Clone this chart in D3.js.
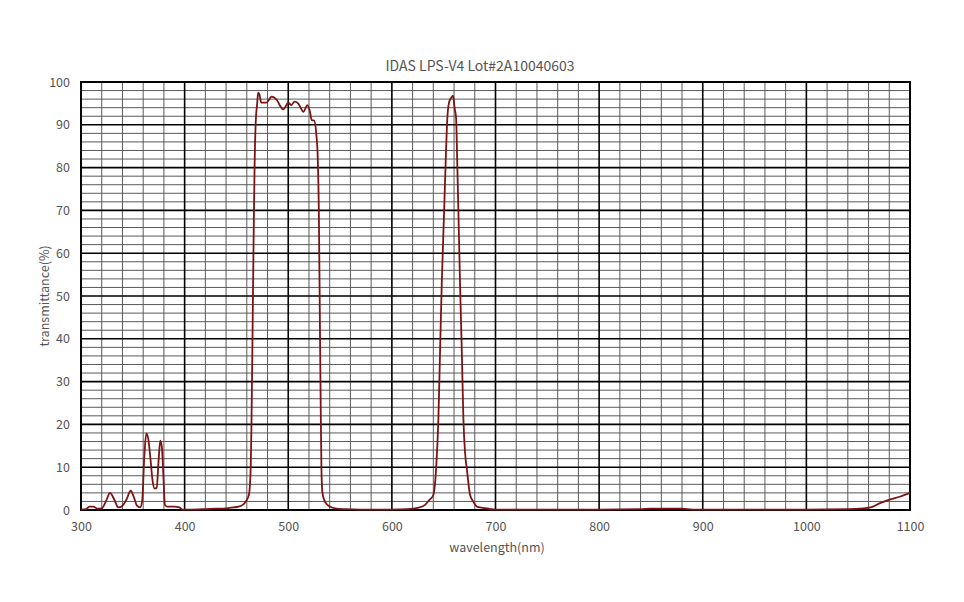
<!DOCTYPE html>
<html><head><meta charset="utf-8">
<script src="https://cdn.jsdelivr.net/npm/d3@7"></script>
<style>
body{margin:0;background:#fff;}
text{font-family:"Noto Sans CJK JP","DejaVu Sans",sans-serif;}
</style></head>
<body><svg id="c" width="964" height="602"></svg>
<script>
const title = "IDAS LPS-V4 Lot#2A10040603";
const xLabel = "wavelength(nm)";
const yLabel = "transmittance(%)";
const xTicks = [300,400,500,600,700,800,900,1000,1100];
const yTicks = [0,10,20,30,40,50,60,70,80,90,100];
const wavelength = [300,305,308,312,316,320,324,328,332,336,340,344,348,351,354,357,359,361,363,365,367,369,371,373,375,376.5,378,379.5,381,383,390,395,398,405,420,430,440,447,452,456,459,462,463.5,464.5,465.5,466.5,467.5,468.5,470,471,472,474,479,484,489,492,495,498,500,503,506,509.5,512,514.5,518.5,521,522.7,525,527,528.5,529.5,530.5,531.3,532,533,535,537,540,545,555,570,600,615,625,632,636,640,642.7,644.9,646.5,648.1,650.4,652,653.5,655,657,659,660.5,662,663,664.2,665.8,667.5,669,670.7,672.3,675.5,678.7,682,688,700,750,800,840,850,865,880,890,950,1000,1040,1055,1062,1071,1081,1090,1100];
const transmittance = [0.1,0.2,0.8,0.8,0.3,0.4,2,4.0,2.5,0.6,1,2.5,4.5,3,1,0.6,2,12,17.9,16.5,12,7,5,5.2,12,16.2,14.8,8,1.2,0.8,0.8,0.6,0.1,0.1,0.2,0.3,0.4,0.6,0.8,1.2,2,3.5,8,20,40,62,80,90,95,97.5,97.2,95.2,95.2,96.6,95.8,94.5,93.6,94.5,95.2,94.6,95.4,95,94,93,94.6,93,91.1,91,88,82,70,45,25,10,4,2.2,1.4,0.8,0.4,0.2,0.1,0.1,0.2,0.5,1.2,2.3,3.5,9.7,21.4,37,52.6,69.7,82,91.5,95,96.2,96.8,94,91.5,82,69.7,52.6,37,21.4,13.2,9.7,3.5,1.9,0.8,0.5,0.1,0.1,0.1,0.2,0.3,0.3,0.3,0.1,0.1,0.1,0.2,0.4,0.6,1.6,2.5,3.1,4.0];

const svg = d3.select("#c");
const L = 81, T = 82, W = 829, H = 428;
const x = d3.scaleLinear().domain([300,1100]).range([L, L+W]);
const y = d3.scaleLinear().domain([0,100]).range([T+H, T]);
const g = svg.append("g");

// minor grid
const xMinor = d3.range(300,1101,20).filter(v => v%100 !== 0);
const yMinor = d3.range(0,101,2).filter(v => v%10 !== 0);
g.selectAll(".vm").data(xMinor).join("line")
  .attr("x1", d=>x(d)).attr("x2", d=>x(d)).attr("y1", T).attr("y2", T+H)
  .attr("stroke", "#5a5a5a").attr("stroke-width", 1);
g.selectAll(".hm").data(yMinor).join("line")
  .attr("x1", L).attr("x2", L+W).attr("y1", d=>y(d)).attr("y2", d=>y(d))
  .attr("stroke", "#5a5a5a").attr("stroke-width", 1);
// major grid
g.selectAll(".vM").data(xTicks).join("line")
  .attr("x1", d=>x(d)).attr("x2", d=>x(d)).attr("y1", T).attr("y2", T+H)
  .attr("stroke", "#000").attr("stroke-width", 1.6);
g.selectAll(".hM").data(yTicks).join("line")
  .attr("x1", L).attr("x2", L+W).attr("y1", d=>y(d)).attr("y2", d=>y(d))
  .attr("stroke", "#000").attr("stroke-width", 1.6);
g.append("rect").attr("x", L).attr("y", T).attr("width", W).attr("height", H)
  .attr("fill","none").attr("stroke","#000").attr("stroke-width",2);

// axes labels
const xa = svg.append("g").attr("transform", `translate(0,${T+H+6})`)
  .call(d3.axisBottom(x).tickValues(xTicks).tickFormat(d3.format("d")).tickSize(0).tickPadding(6));
xa.select(".domain").remove();
xa.selectAll("text").attr("fill","#555").style("font-size","12.5px");
const ya = svg.append("g").attr("transform", `translate(${L-7},0)`)
  .call(d3.axisLeft(y).tickValues(yTicks).tickFormat(d3.format("d")).tickSize(0).tickPadding(4));
ya.select(".domain").remove();
ya.selectAll("text").attr("fill","#555").style("font-size","12.5px");

svg.append("text").attr("x", 480).attr("y", 71).attr("text-anchor","middle")
  .attr("fill","#555").style("font-size","14px").text(title);
svg.append("text").attr("x", 497).attr("y", 552).attr("text-anchor","middle")
  .attr("fill","#555").style("font-size","12.5px").text(xLabel);
svg.append("text").attr("transform", `translate(49,${T+H/2}) rotate(-90)`).attr("text-anchor","middle")
  .attr("fill","#555").style("font-size","12.5px").text(yLabel);

// curve
const pts = wavelength.map((w,i)=>[w, transmittance[i]]);
const line = d3.line().x(d=>x(d[0])).y(d=>y(d[1])).curve(d3.curveMonotoneX);
svg.append("path").datum(pts).attr("d", line).attr("fill","none")
  .attr("stroke","#7d1414").attr("stroke-width",1.8).attr("stroke-linejoin","round");
</script></body></html>
